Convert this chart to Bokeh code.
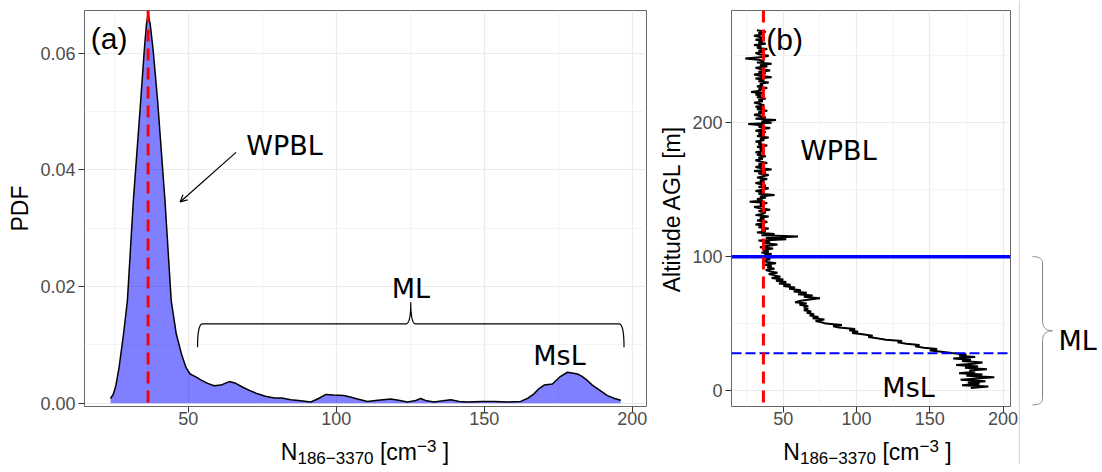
import numpy as np
from bokeh.plotting import figure
from bokeh.layouts import row, column
from bokeh.models import (Range1d, FixedTicker, PrintfTickFormatter, Span, Label, Arrow,
                          OpenHead, Div)
from bokeh.embed import file_html
from bokeh.resources import INLINE

# ---------------- data ----------------
pdf_n = [23.7, 24.6, 25.5, 26.6, 28.1, 29.4, 31.4, 33.9, 35.1, 35.8, 36.4, 37.1, 38.1, 39.6,
         42.1, 44.2, 45.9, 47.8, 49.3, 50.6, 52.5, 54.2, 56.5, 58.7, 61.0, 63.8, 66.0, 68.9,
         71.0, 73.4, 76.0, 79.0, 81.5, 84.6, 88.0, 91.4, 94.0, 96.5, 99.0, 102.6, 105.0, 107.2,
         110.5, 114.0, 118.4, 121.0, 124.0, 126.5, 128.5, 130.5, 133.0, 136.0, 138.7, 141.5,
         144.3, 149.0, 153.3, 158.0, 162.3, 164.5, 166.8, 168.5, 170.2, 173.0, 175.5, 178.1,
         181.5, 183.0, 184.8, 186.5, 188.2, 191.6, 194.0, 196.1]
pdf_density = [0.0008, 0.0015, 0.0030, 0.0062, 0.0119, 0.0176, 0.0347, 0.0519, 0.0605, 0.0648,
               0.0668, 0.0650, 0.0605, 0.0519, 0.0347, 0.0176, 0.0119, 0.0082, 0.0060, 0.0050,
               0.0045, 0.0040, 0.0034, 0.0030, 0.0031, 0.0037, 0.0034, 0.0026, 0.0021, 0.0016,
               0.0012, 0.0009, 0.0009, 0.0006, 0.0004, 0.0002, 0.0008, 0.0015, 0.0014, 0.0013,
               0.0010, 0.0007, 0.0003, 0.0005, 0.0007, 0.0005, 0.0002, 0.0004, 0.0008, 0.0004,
               0.0002, 0.0004, 0.0006, 0.0003, 0.0002, 0.0003, 0.0003, 0.0002, 0.0003, 0.0008,
               0.0016, 0.0025, 0.0031, 0.0033, 0.0045, 0.0053, 0.0050, 0.0046, 0.0039, 0.0031,
               0.0025, 0.0013, 0.0008, 0.0005]

# N at altitudes 2, 3, 4, ... m AGL (1 m sampling)
profile_n = [
    178, 190, 172, 184, 176, 188, 171, 182, 194, 175,
    186, 170, 181, 177, 189, 174, 183, 168, 180, 186,
    172, 178, 166, 181, 170, 175, 165, 158, 150, 155,
    146, 140, 143, 134, 128, 131, 120, 114, 108, 111,
    104, 97, 101, 95, 99, 88, 84, 90, 79, 76,
    72, 78, 70, 74, 68, 71, 66, 69, 64, 67,
    64, 67, 61, 66, 58, 62, 68, 75, 64, 70,
    60, 66, 57, 62, 54, 58, 50, 55, 47, 52,
    45, 50, 42, 48, 44, 40, 46, 41, 38, 44,
    39, 42, 37, 45, 39, 36, 41, 38, 44, 37,
    42, 35, 40, 36, 43, 34, 39, 46, 36, 41,
    33, 52, 38, 60, 35, 44, 32, 38, 35, 40,
    33, 37, 31, 36, 39, 32, 37, 34, 40, 31,
    36, 38, 33, 41, 35, 30, 37, 34, 39, 27,
    36, 32, 38, 34, 44, 33, 37, 31, 36, 40,
    33, 38, 35, 31, 37, 34, 39, 32, 36, 40,
    33, 38, 30, 42, 35, 31, 37, 33, 39, 34,
    31, 36, 33, 38, 32, 35, 31, 37, 34, 36,
    32, 39, 33, 35, 31, 37, 34, 40, 32, 36,
    33, 38, 31, 35, 41, 33, 37, 26, 42, 35,
    45, 31, 38, 34, 30, 36, 33, 39, 32, 36,
    31, 37, 34, 30, 36, 33, 38, 32, 35, 31,
    37, 28, 35, 33, 39, 32, 36, 34, 40, 33,
    37, 31, 42, 34, 30, 38, 33, 41, 35, 31,
    39, 34, 42, 32, 37, 33, 24, 36, 40, 34,
    31, 37, 33, 39, 32, 35, 30, 38, 33, 36,
    31, 37, 34, 30, 36, 33, 38, 32,
]
profile_alt = list(range(2, 2 + len(profile_n)))

mode_n = 36.4          # red dashed line
ml_top_alt = 100       # top of mixed layer (solid blue)
msl_top_alt = 27.8     # top of MsL (dashed blue)

x_ticks = [50, 100, 150, 200]
x_minor = [25, 75, 125, 175]
pdf_ticks = [0.0, 0.02, 0.04, 0.06]
pdf_minor = [0.01, 0.03, 0.05]
alt_ticks = [0, 100, 200]
alt_minor = [50, 150, 250]

# ---------------- layout constants ----------------
FRAME_H = 396
TOP = 10
AX_BOTTOM = 28
STRIP_H = 30
BOTTOM = AX_BOTTOM + STRIP_H
TICK_FONT = "Liberation Sans"
ANN_FONT = "DejaVu Sans"

X_TITLE = ('N<span style="font-size:17px;position:relative;top:3.5px">186\u22123370</span>'
           ' [cm<span style="font-size:17px;position:relative;top:-8px">\u22123</span> ]')


def brace(a0, a1, c, hook, tip, r_end, r_mid, n=24):
    t = np.linspace(0, 1, n)

    def qb(p0, p1, p2):
        return (1 - t) ** 2 * p0 + 2 * (1 - t) * t * p1 + t ** 2 * p2

    am = (a0 + a1) / 2
    a = np.concatenate([qb(a0, a0, a0 + r_end), qb(am - r_mid, am, am),
                        qb(am, am, am + r_mid), qb(a1 - r_end, a1, a1)])
    cc = np.concatenate([qb(c - hook, c, c), qb(c, c, c + tip),
                         qb(c + tip, c, c), qb(c, c, c - hook)])
    return a, cc


def make_fig(xr, yr, fw, mbl, mbr, xt, xm, yt, ym, ylabel, yfmt):
    p = figure(frame_width=fw, frame_height=FRAME_H, x_range=xr, y_range=yr,
               min_border_left=mbl, min_border_right=mbr, min_border_top=TOP,
               min_border_bottom=AX_BOTTOM, toolbar_location=None, output_backend="svg",
               background_fill_color="white", border_fill_color="white")
    p.xaxis.ticker = FixedTicker(ticks=xt, minor_ticks=xm)
    p.yaxis.ticker = FixedTicker(ticks=yt, minor_ticks=ym)
    if yfmt:
        p.yaxis.formatter = PrintfTickFormatter(format=yfmt)
    for ax in p.axis:
        ax.axis_line_color = None
        ax.major_tick_line_color = "#333333"
        ax.major_tick_out = 6
        ax.major_tick_in = 0
        ax.minor_tick_line_color = None
        ax.major_label_text_font = TICK_FONT
        ax.major_label_text_font_size = "18px"
        ax.major_label_text_color = "#4D4D4D"
    p.xaxis.major_label_standoff = -1
    p.yaxis.major_label_standoff = 3
    p.yaxis.axis_label = ylabel
    p.yaxis.axis_label_text_font = TICK_FONT
    p.yaxis.axis_label_text_font_size = "23px"
    p.yaxis.axis_label_text_font_style = "normal"
    p.yaxis.axis_label_text_color = "black"
    p.yaxis.axis_label_standoff = 4
    for g in (p.xgrid, p.ygrid):
        g.grid_line_color = "#EBEBEB"
        g.grid_line_width = 1.2
        g.minor_grid_line_color = "#EFEFEF"
        g.minor_grid_line_width = 0.7
    p.outline_line_color = "#666666"
    p.outline_line_width = 1
    return p


def title_div(fw, mbl, mbr):
    html = ('<div style="font-family:\'Liberation Sans\';font-size:23px;line-height:36px;'
            'color:black;text-align:center;white-space:nowrap;width:%dpx">%s</div>'
            % (fw, X_TITLE))
    return Div(text=html, width=fw, height=STRIP_H, margin=(0, mbr, 0, mbl))


def ann(p, x, y, text, font=ANN_FONT, size="27px", align="center"):
    p.add_layout(Label(x=x, y=y, text=text, text_font=font, text_font_size=size,
                       text_align=align, text_baseline="alphabetic", text_color="black"))


# ---------------- panel (a) ----------------
W1L, W1F, W1R = 84, 562, 10
xr1 = Range1d(14.9, 204.8)
yr1 = Range1d(-0.00057, 0.06732)
p1 = make_fig(xr1, yr1, W1F, W1L, W1R, x_ticks, x_minor, pdf_ticks, pdf_minor, "PDF", "%.2f")
p1.varea(x=pdf_n, y1=0, y2=pdf_density, fill_color="blue", fill_alpha=0.5)
p1.line(pdf_n, pdf_density, line_color="black", line_width=1.5)
p1.add_layout(Span(location=mode_n, dimension="height", line_color="red",
                   line_dash="12 7", line_width=3))
bx, by = brace(53.1, 197.2, 0.0136, 0.0040, 0.0037, 1.7, 1.7)
p1.line(bx, by, line_color="black", line_width=1.2)
p1.add_layout(Arrow(end=OpenHead(size=7, line_width=1.2, line_color="black"),
                    x_start=66.1, y_start=0.0430, x_end=47.2, y_end=0.0345,
                    line_width=1.2, line_color="black"))
ann(p1, 17.0, 0.06244, "(a)", font=TICK_FONT, size="30px", align="left")
ann(p1, 82.5, 0.0441, "WPBL")
ann(p1, 125.2, 0.0196, "ML")
ann(p1, 175.4, 0.00818, "MsL")
d1 = title_div(W1F, W1L, W1R)

# ---------------- panel (b) ----------------
W2L, W2F, W2R = 72, 279, 8
xr2 = Range1d(14.6, 205.1)
yr2 = Range1d(-11.9, 283.8)
p2 = make_fig(xr2, yr2, W2F, W2L, W2R, x_ticks, x_minor, alt_ticks, alt_minor,
              "Altitude AGL [m]", None)
p2.line(profile_n, profile_alt, line_color="black", line_width=2.0)
p2.add_layout(Span(location=ml_top_alt, dimension="width", line_color="blue", line_width=3.5))
p2.add_layout(Span(location=msl_top_alt, dimension="width", line_color="blue",
                   line_dash="10 4", line_width=2))
p2.add_layout(Span(location=mode_n, dimension="height", line_color="red",
                   line_dash="12 7", line_width=3))
ann(p2, 38.3, 262.3, "(b)", font=TICK_FONT, size="30px", align="left")
ann(p2, 87.6, 179.2, "WPBL")
ann(p2, 135.5, 2.5, "MsL")
d2 = title_div(W2F, W2L, W2R)

# ---------------- right-hand bracket (ML) ----------------
W3 = 79
a_per_px = (yr2.end - yr2.start) / FRAME_H
yr3 = Range1d(yr2.start - BOTTOM * a_per_px, yr2.end + TOP * a_per_px)
p3 = figure(frame_width=W3, frame_height=TOP + FRAME_H + BOTTOM, x_range=Range1d(0, W3),
            y_range=yr3, min_border_left=0, min_border_right=0, min_border_top=0,
            min_border_bottom=0, toolbar_location=None, output_backend="svg",
            x_axis_location=None, y_axis_location=None, background_fill_color="white",
            border_fill_color="white")
p3.xgrid.visible = False
p3.ygrid.visible = False
p3.outline_line_color = None
p3.add_layout(Span(location=0.7, dimension="height", line_color="#C8C8C8", line_width=1))
va, vc = brace(-10.7, ml_top_alt, 24, 10, 10, 4.5, 8)
p3.line(vc, va, line_color="#808080", line_width=1)
ann(p3, 40, 37.3, "ML", align="left")

layout = row(column(p1, d1), column(p2, d2), p3)
open("out.html", "w").write(file_html(layout, INLINE))
